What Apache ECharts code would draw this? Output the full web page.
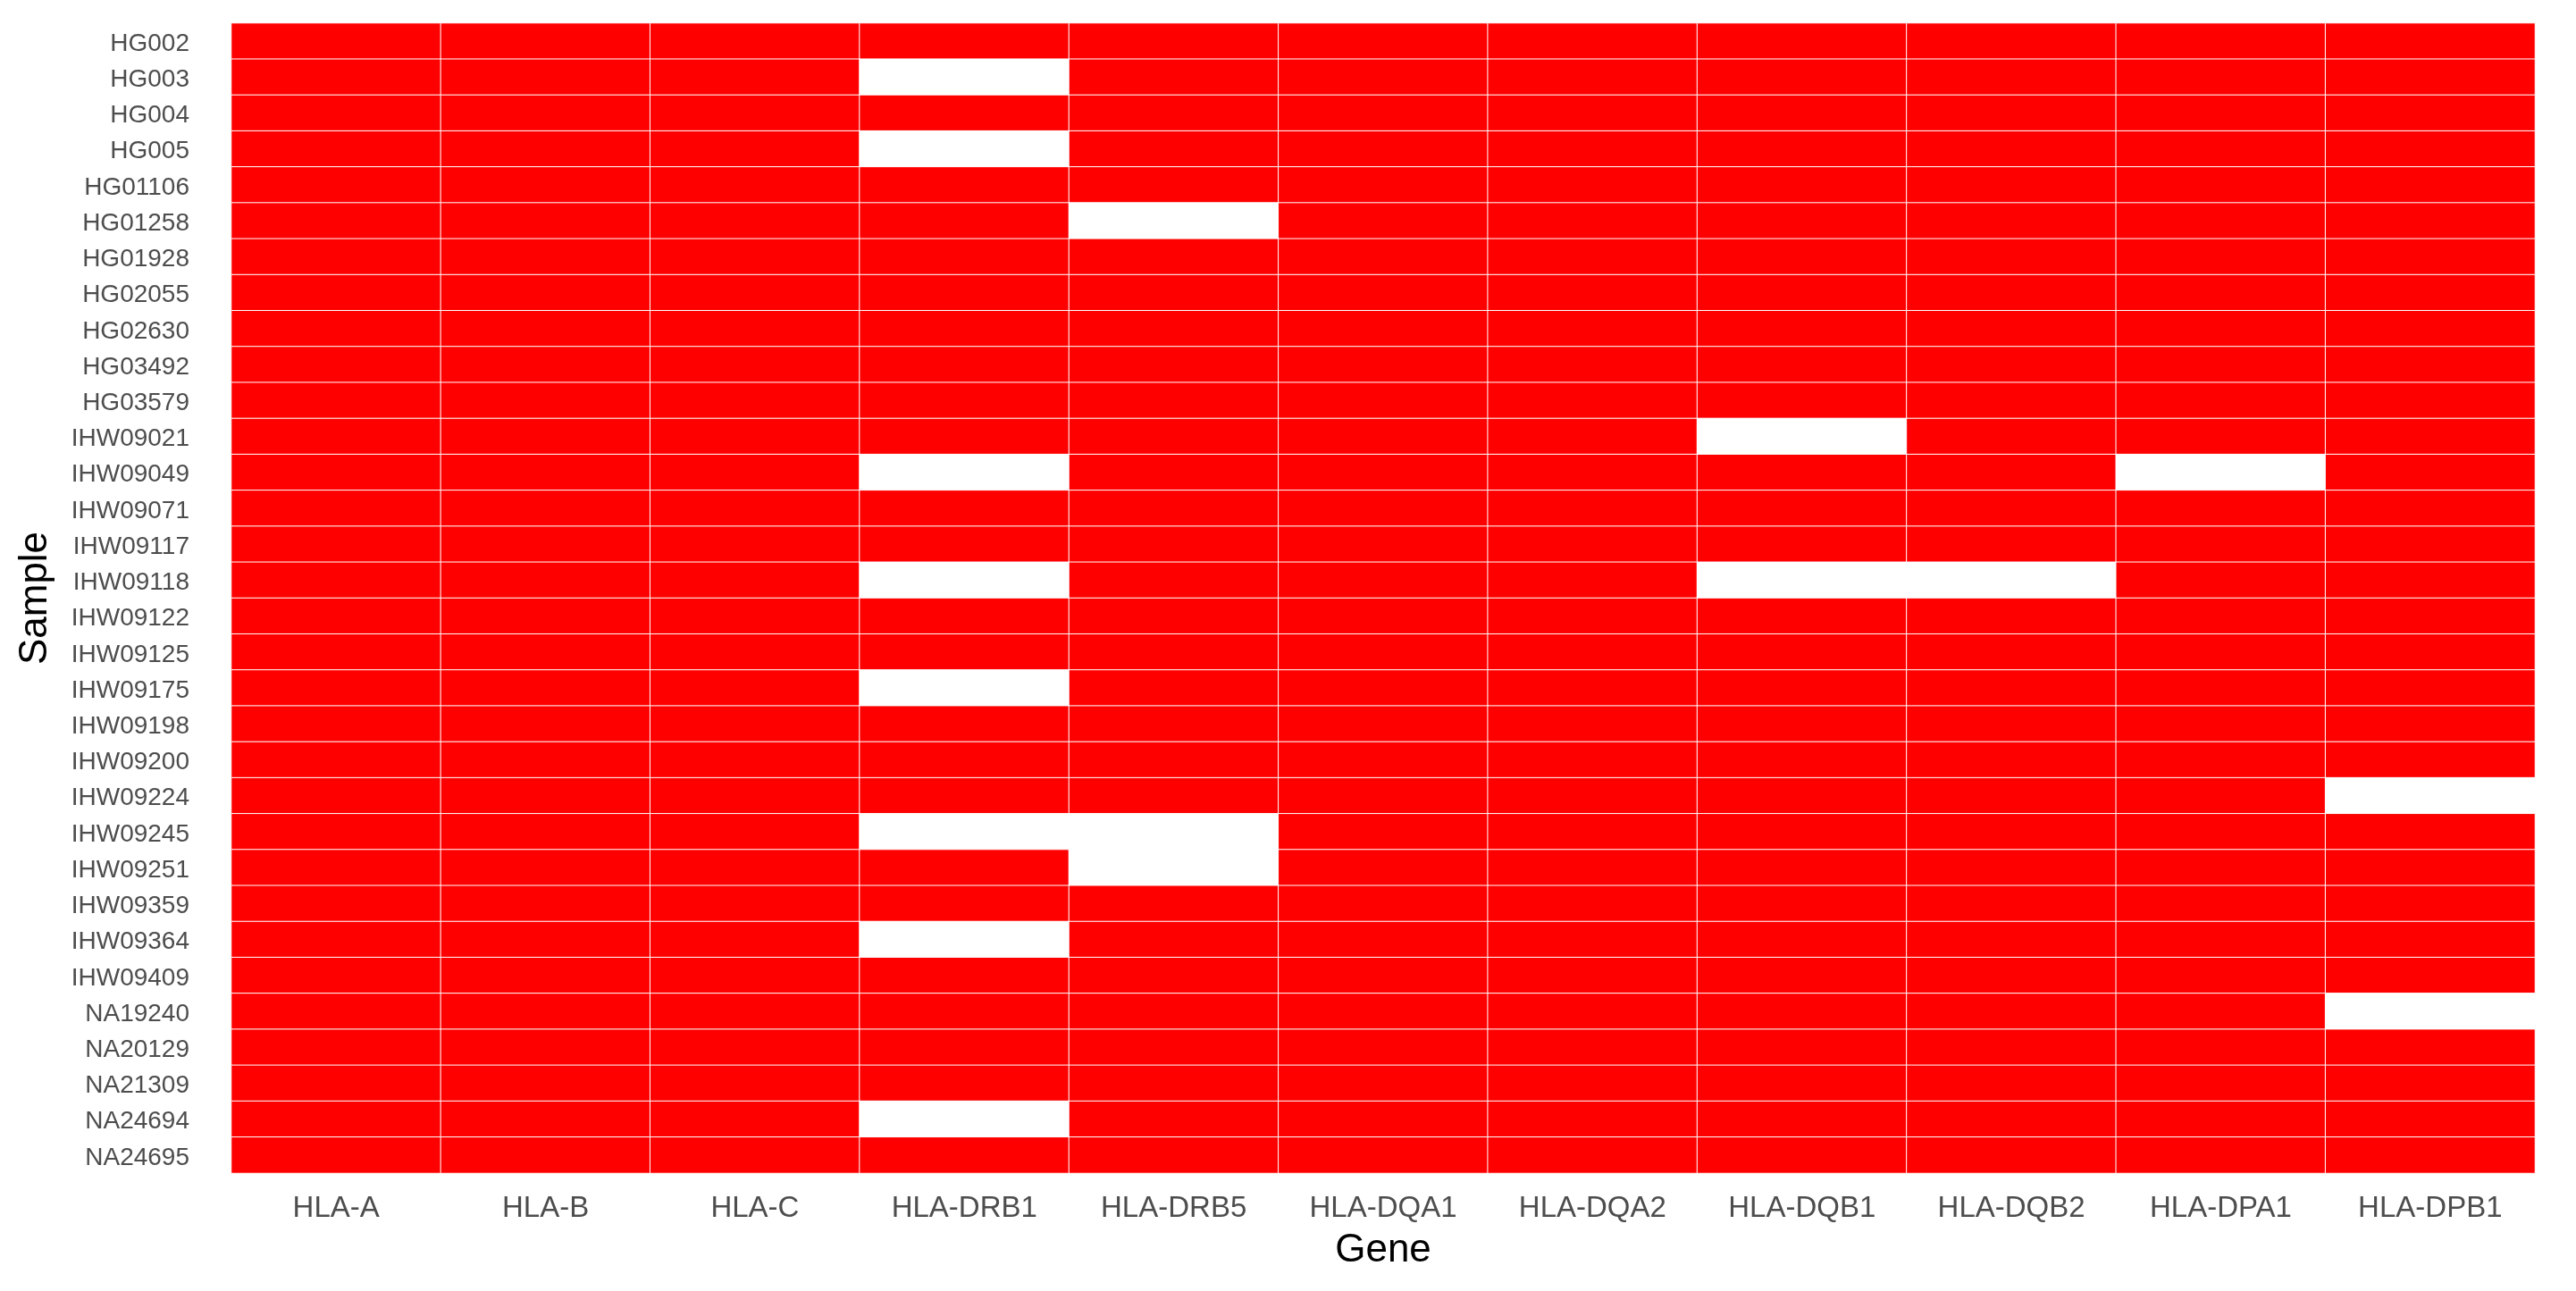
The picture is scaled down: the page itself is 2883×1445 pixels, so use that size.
<!DOCTYPE html>
<html>
<head>
<meta charset="utf-8">
<script src="https://cdn.jsdelivr.net/npm/echarts@6/dist/echarts.min.js"></script>
<style>
html,body{margin:0;padding:0;background:#fff;}
#c{width:2883px;height:1445px;}
</style>
</head>
<body>
<div id="c"></div>
<script>
const genes = ['HLA-A','HLA-B','HLA-C','HLA-DRB1','HLA-DRB5','HLA-DQA1','HLA-DQA2','HLA-DQB1','HLA-DQB2','HLA-DPA1','HLA-DPB1'];
const samples = ['HG002','HG003','HG004','HG005','HG01106','HG01258','HG01928','HG02055','HG02630','HG03492','HG03579',
  'IHW09021','IHW09049','IHW09071','IHW09117','IHW09118','IHW09122','IHW09125','IHW09175','IHW09198','IHW09200',
  'IHW09224','IHW09245','IHW09251','IHW09359','IHW09364','IHW09409','NA19240','NA20129','NA21309','NA24694','NA24695'];
// 1 = typed (red), 0 = missing (white); one row per sample, columns follow genes
const presence = [
  [1,1,1,1,1,1,1,1,1,1,1], // HG002
  [1,1,1,0,1,1,1,1,1,1,1], // HG003
  [1,1,1,1,1,1,1,1,1,1,1], // HG004
  [1,1,1,0,1,1,1,1,1,1,1], // HG005
  [1,1,1,1,1,1,1,1,1,1,1], // HG01106
  [1,1,1,1,0,1,1,1,1,1,1], // HG01258
  [1,1,1,1,1,1,1,1,1,1,1], // HG01928
  [1,1,1,1,1,1,1,1,1,1,1], // HG02055
  [1,1,1,1,1,1,1,1,1,1,1], // HG02630
  [1,1,1,1,1,1,1,1,1,1,1], // HG03492
  [1,1,1,1,1,1,1,1,1,1,1], // HG03579
  [1,1,1,1,1,1,1,0,1,1,1], // IHW09021
  [1,1,1,0,1,1,1,1,1,0,1], // IHW09049
  [1,1,1,1,1,1,1,1,1,1,1], // IHW09071
  [1,1,1,1,1,1,1,1,1,1,1], // IHW09117
  [1,1,1,0,1,1,1,0,0,1,1], // IHW09118
  [1,1,1,1,1,1,1,1,1,1,1], // IHW09122
  [1,1,1,1,1,1,1,1,1,1,1], // IHW09125
  [1,1,1,0,1,1,1,1,1,1,1], // IHW09175
  [1,1,1,1,1,1,1,1,1,1,1], // IHW09198
  [1,1,1,1,1,1,1,1,1,1,1], // IHW09200
  [1,1,1,1,1,1,1,1,1,1,0], // IHW09224
  [1,1,1,0,0,1,1,1,1,1,1], // IHW09245
  [1,1,1,1,0,1,1,1,1,1,1], // IHW09251
  [1,1,1,1,1,1,1,1,1,1,1], // IHW09359
  [1,1,1,0,1,1,1,1,1,1,1], // IHW09364
  [1,1,1,1,1,1,1,1,1,1,1], // IHW09409
  [1,1,1,1,1,1,1,1,1,1,0], // NA19240
  [1,1,1,1,1,1,1,1,1,1,1], // NA20129
  [1,1,1,1,1,1,1,1,1,1,1], // NA21309
  [1,1,1,0,1,1,1,1,1,1,1], // NA24694
  [1,1,1,1,1,1,1,1,1,1,1]  // NA24695
];

const data = [];
samples.forEach((s, yi) => {
  genes.forEach((g, xi) => {
    data.push([xi, yi, presence[yi][xi]]);
  });
});

const FONT = '"Liberation Sans", Arial, Helvetica, sans-serif';
const chart = echarts.init(document.getElementById('c'), null, {renderer: 'canvas'});
chart.setOption({
  animation: false,
  backgroundColor: '#ffffff',
  grid: {left: 259, right: 46, top: 26, bottom: 132, containLabel: false, outerBoundsMode: 'none'},
  xAxis: {
    type: 'category',
    data: genes,
    name: 'Gene',
    nameLocation: 'middle',
    nameGap: 65,
    nameTextStyle: {fontFamily: FONT, fontSize: 44, color: '#000000'},
    axisLine: {show: false},
    axisTick: {show: false},
    splitLine: {show: false},
    axisLabel: {fontFamily: FONT, fontSize: 33, color: '#4D4D4D', margin: 23, interval: 0}
  },
  yAxis: {
    type: 'category',
    data: samples,
    inverse: true,
    name: 'Sample',
    nameLocation: 'middle',
    nameRotate: 90,
    nameGap: 197,
    nameTextStyle: {fontFamily: FONT, fontSize: 44, color: '#000000'},
    axisLine: {show: false},
    axisTick: {show: false},
    splitLine: {show: false},
    axisLabel: {fontFamily: FONT, fontSize: 28, color: '#4D4D4D', margin: 47, interval: 0,
                verticalAlign: 'top', lineHeight: 6}
  },
  visualMap: {
    show: false,
    type: 'piecewise',
    dimension: 2,
    pieces: [
      {value: 1, color: '#FF0000'},
      {value: 0, color: '#FFFFFF'}
    ]
  },
  series: [{
    type: 'heatmap',
    data: data,
    itemStyle: {borderColor: '#FFFFFF', borderWidth: 1},
    emphasis: {disabled: true}
  }]
});
</script>
</body>
</html>
